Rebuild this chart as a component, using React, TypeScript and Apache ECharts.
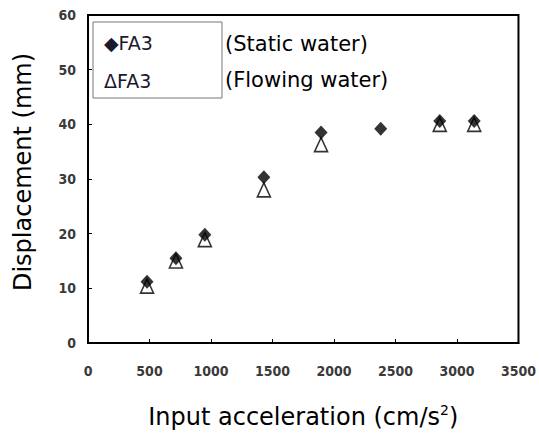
import React, { useEffect, useRef } from "react";
import * as echarts from "echarts";

const accelStatic = [480, 715, 950, 1430, 1895, 2380, 2860, 3140];
const dispStatic = [11.2, 15.5, 19.8, 30.3, 38.5, 39.2, 40.6, 40.6];
const accelFlowing = [480, 715, 950, 1430, 1895, 2860, 3140];
const dispFlowing = [10.4, 15.0, 18.9, 28.0, 36.3, 40.0, 40.0];
const legendNames = ["FA3", "FA3"];
const legendNotes = ["(Static water)", "(Flowing water)"];

export default function App() {
  const ref = useRef<HTMLDivElement>(null);
  useEffect(() => {
    if (!ref.current) return;
    const chart = echarts.init(ref.current, null, { renderer: "svg" });
    const tickFont = {
      fontFamily: "DejaVu Sans Condensed",
      fontWeight: "bold" as const,
      fontSize: 14,
      color: "#3a3a3a",
    };
    chart.setOption({
      animation: false,
      backgroundColor: "#ffffff",
      grid: {
        left: 88,
        right: 17,
        top: 15,
        bottom: 93,
        show: true,
        borderColor: "#000",
        borderWidth: 2,
      },
      xAxis: {
        type: "value",
        min: 0,
        max: 3500,
        interval: 500,
        name: "Input acceleration (cm/s{sup|2})",
        nameLocation: "middle",
        nameGap: 60,
        nameTextStyle: {
          fontFamily: "DejaVu Sans",
          fontSize: 24,
          color: "#000",
          rich: {
            sup: { fontSize: 14, verticalAlign: "top", padding: [0, 0, 14, 0], fontFamily: "DejaVu Sans", color: "#000" },
          },
        },
        axisLine: { show: true, lineStyle: { color: "#000", width: 2 } },
        axisTick: { show: true, inside: true, length: 4, lineStyle: { color: "#000" } },
        splitLine: { show: false },
        axisLabel: { ...tickFont, margin: 21, formatter: (v: number) => String(v) },
      },
      yAxis: {
        type: "value",
        min: 0,
        max: 60,
        interval: 10,
        name: "Displacement (mm)",
        nameLocation: "middle",
        nameGap: 53,
        nameTextStyle: { fontFamily: "DejaVu Sans", fontSize: 24, color: "#000", padding: [0, 0, 0, 14] },
        axisLine: { show: true, lineStyle: { color: "#000", width: 2 } },
        axisTick: { show: true, inside: true, length: 4, lineStyle: { color: "#000" } },
        splitLine: { show: false },
        axisLabel: { ...tickFont, margin: 12 },
      },
      graphic: [
        {
          type: "rect",
          shape: { x: 93, y: 22, width: 129, height: 76 },
          style: { fill: "#fff", stroke: "#777", lineWidth: 1 },
          z: 10,
        },
        {
          type: "text",
          x: 104,
          y: 43,
          style: {
            text: "◆" + legendNames[0],
            fontFamily: "DejaVu Sans",
            fontSize: 19,
            fill: "#1a1a2e",
            verticalAlign: "middle",
          },
          z: 11,
        },
        {
          type: "text",
          x: 104,
          y: 81,
          style: {
            text: "Δ" + legendNames[1],
            fontFamily: "DejaVu Sans",
            fontSize: 19,
            fill: "#1a1a2e",
            verticalAlign: "middle",
          },
          z: 11,
        },
        {
          type: "text",
          x: 225,
          y: 44,
          style: {
            text: legendNotes[0],
            fontFamily: "DejaVu Sans",
            fontSize: 21,
            fill: "#000",
            verticalAlign: "middle",
          },
          z: 11,
        },
        {
          type: "text",
          x: 225,
          y: 80,
          style: {
            text: legendNotes[1],
            fontFamily: "DejaVu Sans",
            fontSize: 21,
            fill: "#000",
            verticalAlign: "middle",
          },
          z: 11,
        },
      ],
      series: [
        {
          name: "FA3 (Flowing water)",
          type: "scatter",
          symbol: "triangle",
          symbolSize: [13, 14],
          itemStyle: { color: "#fff", borderColor: "#000", borderWidth: 1.6 },
          data: accelFlowing.map((a, i) => [a, dispFlowing[i]]),
          z: 2,
        },
        {
          name: "FA3 (Static water)",
          type: "scatter",
          symbol: "diamond",
          symbolSize: [13, 14],
          itemStyle: { color: "#000" },
          data: accelStatic.map((a, i) => [a, dispStatic[i]]),
          z: 3,
        },
      ],
    });
    return () => chart.dispose();
  }, []);
  return <div ref={ref} style={{ width: 539, height: 436, position: "absolute", left: 0, top: 0 }} />;
}
